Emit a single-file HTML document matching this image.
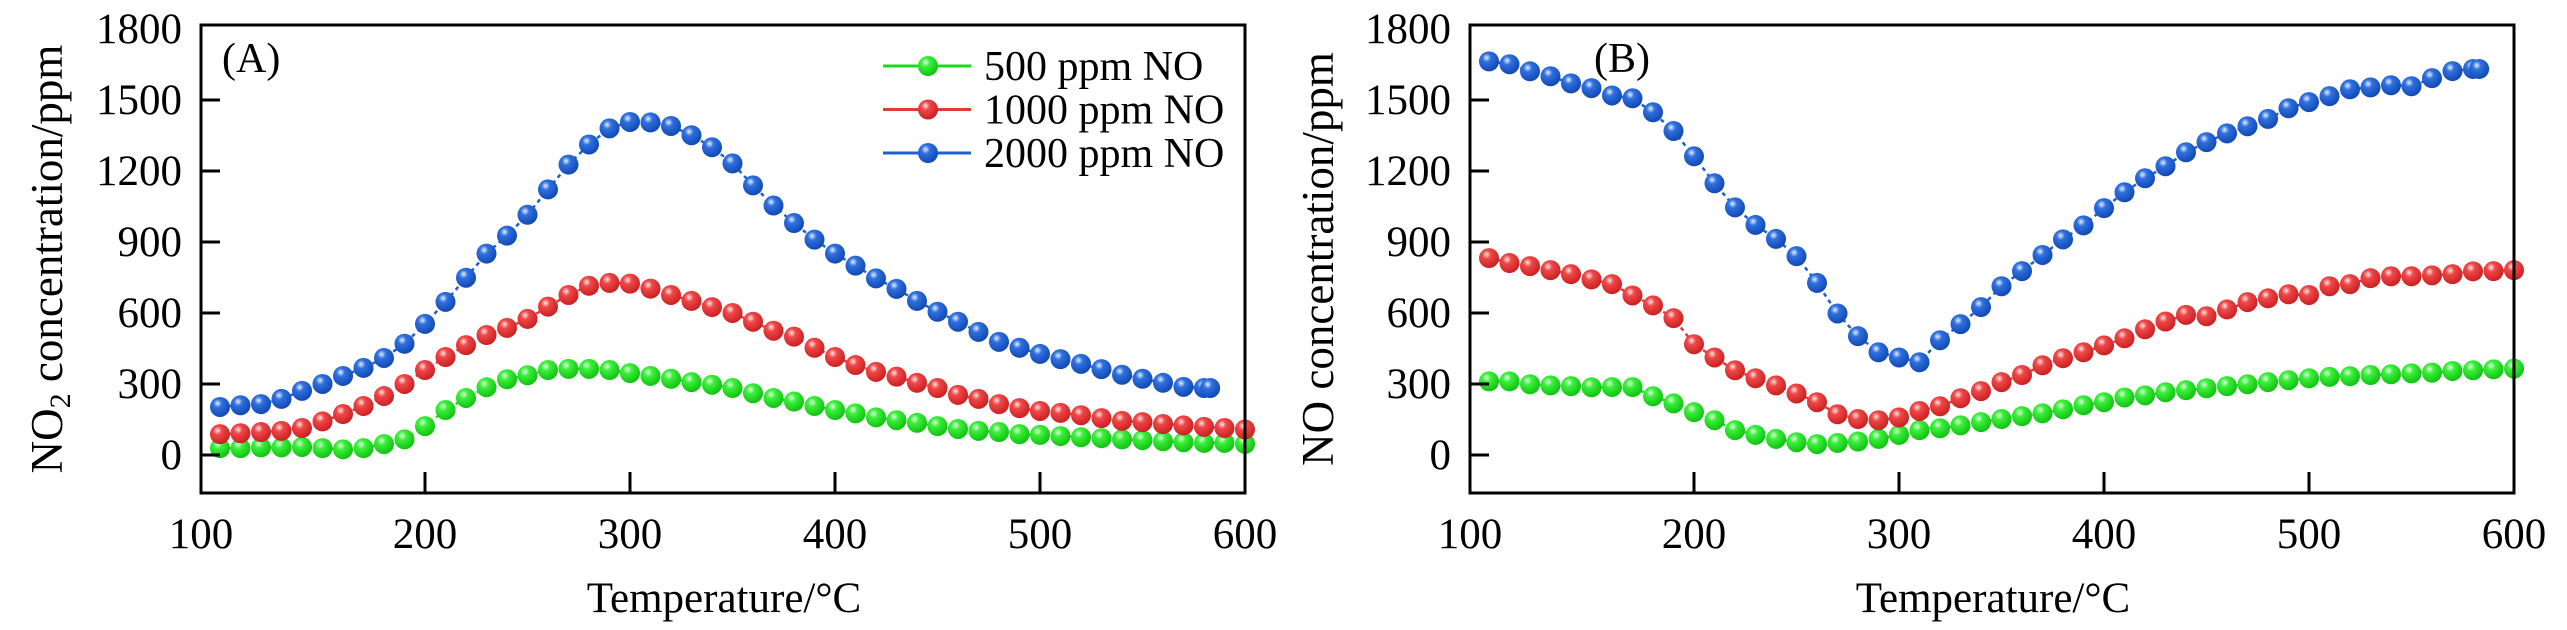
<!DOCTYPE html>
<html><head><meta charset="utf-8"><style>
html,body{margin:0;padding:0;background:#fff;}
svg{display:block;font-family:"Liberation Serif",serif;}
</style></head><body>
<svg id="chart" width="2567" height="630" viewBox="0 0 2567 630" xmlns="http://www.w3.org/2000/svg">
<defs>
<radialGradient id="g-green" cx="0.38" cy="0.32" r="0.7"><stop offset="0" stop-color="#e8ffe8"/><stop offset="0.3" stop-color="#3cf03c"/><stop offset="1" stop-color="#10c010"/></radialGradient>
<radialGradient id="g-red" cx="0.38" cy="0.32" r="0.7"><stop offset="0" stop-color="#ffe8e8"/><stop offset="0.3" stop-color="#f04848"/><stop offset="1" stop-color="#c82020"/></radialGradient>
<radialGradient id="g-blue" cx="0.38" cy="0.32" r="0.7"><stop offset="0" stop-color="#e8f0ff"/><stop offset="0.3" stop-color="#2f70e0"/><stop offset="1" stop-color="#1048b0"/></radialGradient>
</defs>
<g id="root"></g>
</svg>
<script>
const xTicks = [100,200,300,400,500,600];
const yTicks = [0,300,600,900,1200,1500,1800];
const seriesNames = ["500 ppm NO","1000 ppm NO","2000 ppm NO"];
const tempA = [100,110,120,130,140,150,160,170,180,190,200,210,220,230,240,250,260,270,280,290,300,310,320,330,340,350,360,370,380,390,400,410,420,430,440,450,460,470,480,490,500,510,520,530,540,550,560,570,580,590,600];
const tempBlueA = [100,110,120,130,140,150,160,170,180,190,200,210,220,230,240,250,260,270,280,290,300,310,320,330,340,350,360,370,380,390,400,410,420,430,440,450,460,470,480,490,500,510,520,530,540,550,560,570,580,583];
const greenA = [29,29,32,32,34,29,24,29,46,66,122,190,241,286,320,337,359,364,364,359,346,334,322,308,297,283,261,241,226,207,190,176,159,147,136,122,110,102,97,88,85,80,75,71,66,63,58,54,51,51,47];
const redA = [88,92,97,102,114,142,173,207,249,300,359,414,464,507,537,575,627,676,715,727,724,703,676,651,625,600,563,525,500,453,414,380,351,331,305,283,254,237,215,198,186,178,168,156,144,139,131,125,119,114,108];
const blueA = [203,210,215,237,271,300,334,368,410,470,554,647,749,851,927,1015,1122,1227,1312,1380,1407,1405,1390,1351,1300,1232,1139,1054,980,910,851,800,746,702,651,605,563,520,478,453,427,405,385,363,339,322,305,288,283,283];
const tempB = tempA;
const tempBlueB = tempBlueA;
const greenB = [311,311,299,294,291,286,287,287,248,218,181,147,105,85,68,54,46,51,57,68,85,105,113,125,139,152,164,176,193,210,223,243,252,265,274,282,291,299,308,316,324,330,333,338,341,345,348,355,358,362,365];
const redB = [832,811,798,781,764,742,722,674,632,578,468,412,358,324,294,260,223,172,152,147,159,186,206,240,270,308,338,379,409,434,463,493,531,564,592,586,615,646,662,679,676,713,722,747,755,755,759,764,776,777,781];
const blueB = [1663,1651,1621,1600,1570,1550,1519,1507,1448,1369,1262,1148,1046,972,913,840,727,598,502,434,412,392,485,553,625,713,777,845,911,970,1043,1110,1169,1220,1279,1322,1359,1389,1420,1465,1491,1516,1545,1553,1562,1558,1592,1622,1631,1631];

const NS = "http://www.w3.org/2000/svg";
const root = document.getElementById('root');
function mk(tag, attrs, parent){const e=document.createElementNS(NS,tag);for(const k in attrs)e.setAttribute(k,attrs[k]);(parent||root).appendChild(e);return e;}

const colors = {green:"#1ed81e", red:"#e03a3a", blue:"#1f5fd0"};

function panel(opt){
  const g = mk('g',{});
  
  
  const L=opt.left, R=opt.right, T=25, B=493;
  const x0 = L+224; // x of 200
  const sx = v => x0 + (v-200)*2.05;
  const sy = v => 455 - v*0.2367;
  // series
  const ser = [[opt.green,opt.tg,'green'],[opt.red,opt.tg,'red'],[opt.blue,opt.tb,'blue']];
  ser.forEach(([vals,ts,c])=>{
    const sg = mk('g',{},g);
    
    
    let d='';
    vals.forEach((v,i)=>{d+=(i?'L':'M')+sx(ts[i]).toFixed(1)+','+sy(v).toFixed(1);});
    const p = mk('path',{d:d,fill:'none',stroke:colors[c],'stroke-width':2.5,'stroke-dasharray':'4 4'},sg);
    
    
    vals.forEach((v,i)=>{
      const cx=sx(ts[i]); if(cx>R+2) return;
      const m = mk('circle',{cx:cx,cy:sy(v),r:10,fill:'url(#g-'+c+')'},sg);
      
      
    });
  });
  // axes box
  const box = mk('rect',{x:L,y:T,width:R-L,height:B-T,fill:'none',stroke:'#000','stroke-width':3},g);
  
  
  // clip overflow visually: white cover beyond right
  // x ticks
  xTicks.forEach((t,i)=>{
    const x = i===0 ? L : sx(t);
    if(i>0 && i<xTicks.length-1) mk('line',{x1:x,y1:B,x2:x,y2:B-21,stroke:'#000','stroke-width':3},g);
    const tx = mk('text',{x:x,y:548,'font-size':43,'text-anchor':'middle'},g);
    tx.textContent=t;
    
    
  });
  yTicks.forEach(t=>{
    const y = sy(t);
    if(t<1800) mk('line',{x1:L,y1:y,x2:L+19,y2:y,stroke:'#000','stroke-width':3},g);
    const tx = mk('text',{x:L-19,y:y+14,'font-size':43,'text-anchor':'end'},g);
    tx.textContent=t;
    
    
  });
  const xt = mk('text',{x:opt.xtc,y:612,'font-size':43,'text-anchor':'middle'},g);
  xt.textContent='Temperature/°C';
  
  
  const yt = mk('text',{x:0,y:0,'font-size':45,'text-anchor':'middle',transform:'translate('+opt.ytx+',259) rotate(-90)'},g);
  yt.innerHTML = opt.ytitle;
  
  
  const pl = mk('text',{x:opt.plx,y:72,'font-size':42},g);
  pl.textContent=opt.label;
  
  
  return g;
}

panel({name:'panel-a',left:201,right:1245,green:greenA,red:redA,blue:blueA,tg:tempA,tb:tempBlueA,xtc:724,ytx:62,
  ytitle:'NO<tspan font-size="30" dy="8">2</tspan><tspan dy="-8"> concentration/ppm</tspan>',plx:222,label:'(A)'});
panel({name:'panel-b',left:1470,right:2514,green:greenB,red:redB,blue:blueB,tg:tempB,tb:tempBlueB,xtc:1993,ytx:1333,
  ytitle:'NO concentration/ppm',plx:1594,label:'(B)'});

// legend
const lg = mk('g',{});


['green','red','blue'].forEach((c,i)=>{
  const y = 66 + i*43.5;
  const e = mk('g',{},lg);
  
  
  mk('line',{x1:883,y1:y,x2:971,y2:y,stroke:colors[c],'stroke-width':3},e);
  mk('circle',{cx:928,cy:y,r:10,fill:'url(#g-'+c+')'},e);
  const t = mk('text',{x:984,y:y+14,'font-size':42},e);
  t.textContent = seriesNames[i];
});
</script>
</body></html>
